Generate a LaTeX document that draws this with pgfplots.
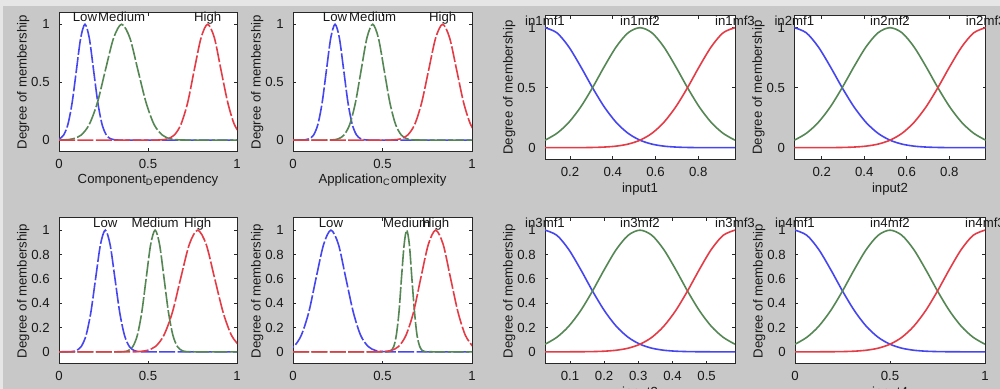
\documentclass[border=0pt]{standalone}
\usepackage{fontspec}
\setmainfont{Liberation Sans}
\usepackage{pgfplots}
\usepackage{pgfplotstable}
\pgfplotsset{compat=1.18}
\definecolor{bgc}{RGB}{200,200,200}
\definecolor{mfb}{RGB}{70,70,240}
\definecolor{mfg}{RGB}{85,135,85}
\definecolor{mfr}{RGB}{228,60,70}
\definecolor{axc}{RGB}{40,40,40}
\definecolor{txc}{RGB}{25,25,25}

% right-hand panels: x, blue (mf1), green (mf2), red (mf3)
\pgfplotstableread{
x b g r
0.083 1 0.0625 0
0.1386 0.9576 0.1197 0.0001
0.1941 0.8409 0.2102 0.0002
0.2497 0.6771 0.3385 0.0007
0.3053 0.5 0.5 0.002
0.3608 0.3385 0.6771 0.0053
0.4164 0.2102 0.8409 0.0131
0.4719 0.1197 0.9576 0.0299
0.5275 0.0625 1 0.0625
0.5831 0.0299 0.9576 0.1197
0.6386 0.0131 0.8409 0.2102
0.6942 0.0053 0.6771 0.3385
0.7498 0.002 0.5 0.5
0.8053 0.0007 0.3385 0.6771
0.8609 0.0002 0.2102 0.8409
0.9164 0.0001 0.1197 0.9576
0.972 0 0.0625 1
}\tinA
\pgfplotstableread{
x b g r
0.071 1 0.0625 0
0.1273 0.9576 0.1197 0.0001
0.1835 0.8409 0.2102 0.0002
0.2398 0.6771 0.3385 0.0007
0.296 0.5 0.5 0.002
0.3523 0.3385 0.6771 0.0053
0.4085 0.2102 0.8409 0.0131
0.4648 0.1197 0.9576 0.0299
0.521 0.0625 1 0.0625
0.5773 0.0299 0.9576 0.1197
0.6335 0.0131 0.8409 0.2102
0.6898 0.0053 0.6771 0.3385
0.746 0.002 0.5 0.5
0.8023 0.0007 0.3385 0.6771
0.8585 0.0002 0.2102 0.8409
0.9148 0.0001 0.1197 0.9576
0.971 0 0.0625 1
}\tinB
\pgfplotstableread{
x b g r
0.027 1 0.0625 0
0.0618 0.9576 0.1197 0.0001
0.0965 0.8409 0.2102 0.0002
0.1313 0.6771 0.3385 0.0007
0.166 0.5 0.5 0.002
0.2008 0.3385 0.6771 0.0053
0.2355 0.2102 0.8409 0.0131
0.2703 0.1197 0.9576 0.0299
0.305 0.0625 1 0.0625
0.3398 0.0299 0.9576 0.1197
0.3745 0.0131 0.8409 0.2102
0.4093 0.0053 0.6771 0.3385
0.444 0.002 0.5 0.5
0.4788 0.0007 0.3385 0.6771
0.5135 0.0002 0.2102 0.8409
0.5483 0.0001 0.1197 0.9576
0.583 0 0.0625 1
}\tinC
\pgfplotstableread{
x b g r
0 1 0.0625 0
0.0625 0.9576 0.1197 0.0001
0.125 0.8409 0.2102 0.0002
0.1875 0.6771 0.3385 0.0007
0.25 0.5 0.5 0.002
0.3125 0.3385 0.6771 0.0053
0.375 0.2102 0.8409 0.0131
0.4375 0.1197 0.9576 0.0299
0.5 0.0625 1 0.0625
0.5625 0.0299 0.9576 0.1197
0.625 0.0131 0.8409 0.2102
0.6875 0.0053 0.6771 0.3385
0.75 0.002 0.5 0.5
0.8125 0.0007 0.3385 0.6771
0.875 0.0002 0.2102 0.8409
0.9375 0.0001 0.1197 0.9576
1 0 0.0625 1
}\tinD

\newcommand{\fs}{\fontsize{6.6}{8}\selectfont}
\tikzset{lbl/.style={anchor=base, yshift=1.2pt, inner sep=0pt, text=txc, font=\fs}}
\pgfplotsset{
  mf/.style={
    scale only axis, anchor=south west,
    axis background/.style={fill=white},
    axis line style={draw=axc, line width=0.5pt},
    tick align=inside, tick pos=both, major tick length=1.6pt,
    every tick/.style={draw=axc, line width=0.45pt},
    ymin=-0.1, ymax=1.1,
    clip mode=individual,
    font=\fs,
    ticklabel style={font=\fs, text=txc},
    /pgf/number format/assume math mode=true,
    xticklabel style={anchor=base, inner sep=0pt, yshift=-8.4pt},
    yticklabel style={anchor=east, inner sep=0pt, xshift=-4.5pt},
    xlabel style={at={(axis description cs:0.5,0)}, anchor=base, inner sep=0pt, text=txc},
    ylabel={Degree of membership},
    ylabel style={anchor=base, inner sep=0pt, text=txc},
    every axis plot/.append style={line width=0.8pt, smooth},
  },
  leftdash/.style={every axis plot/.append style={dash pattern=on 8pt off 1.2pt}},
}

\begin{document}
\begin{tikzpicture}
\useasboundingbox (0,0) rectangle (500pt,194.5pt);
\clip (0,0) rectangle (500pt,194.5pt);
\fill[bgc] (0,0) rectangle (500pt,194.5pt);
\fill[white!55!bgc] (0,191.5pt) rectangle (500pt,194.5pt);
\fill[white!55!bgc] (0,0) rectangle (1.5pt,194.5pt);

% ---------- Panel 1 ----------
\begin{axis}[mf, leftdash, at={(29.5pt,118.65pt)}, width=89pt, height=69.5pt,
  xmin=0, xmax=1, xtick={0,0.5,1}, ytick={0,0.5,1},
  xlabel={Component\textsubscript{D}ependency}, xlabel style={yshift=-15.8pt},
  ylabel style={at={(axis description cs:-0.182,0.5)}}]
\addplot[mfb] coordinates {(-0.022,0.0022) (0.002,0.0111) (0.026,0.0439) (0.050,0.1353) (0.074,0.3247) (0.098,0.6065) (0.122,0.8825) (0.146,1) (0.170,0.8825) (0.194,0.6065) (0.218,0.3247) (0.242,0.1353) (0.266,0.0439) (0.290,0.0111) (0.314,0.0022) (0.40,0) (1,0)};
\addplot[mfg] coordinates {(0,0) (0.034,0.0022) (0.079,0.0111) (0.125,0.0439) (0.170,0.1353) (0.216,0.3247) (0.261,0.6065) (0.307,0.8825) (0.352,1) (0.398,0.8825) (0.443,0.6065) (0.489,0.3247) (0.534,0.1353) (0.580,0.0439) (0.625,0.0111) (0.671,0.0022) (0.75,0) (1,0)};
\addplot[mfr] coordinates {(0,0) (0.50,0) (0.573,0.0022) (0.610,0.0111) (0.648,0.0439) (0.685,0.1353) (0.723,0.3247) (0.760,0.6065) (0.798,0.8825) (0.835,1) (0.873,0.8825) (0.910,0.6065) (0.948,0.3247) (0.985,0.1353) (1.023,0.0439)};
\node[lbl] at (axis cs:0.146,1) {Low};
\node[lbl] at (axis cs:0.352,1) {Medium};
\node[lbl] at (axis cs:0.835,1) {High};
\end{axis}

% ---------- Panel 2 ----------
\begin{axis}[mf, leftdash, at={(146.5pt,118.65pt)}, width=89.5pt, height=69.5pt,
  xmin=0, xmax=1, xtick={0,0.5,1}, ytick={0,0.5,1},
  xlabel={Application\textsubscript{C}omplexity}, xlabel style={yshift=-15.8pt},
  ylabel style={at={(axis description cs:-0.181,0.5)}}]
\addplot[mfb] coordinates {(0,0) (0.067,0.0022) (0.091,0.0111) (0.115,0.0439) (0.139,0.1353) (0.163,0.3247) (0.187,0.6065) (0.211,0.8825) (0.235,1) (0.259,0.8825) (0.283,0.6065) (0.307,0.3247) (0.331,0.1353) (0.355,0.0439) (0.379,0.0111) (0.403,0.0022) (0.48,0) (1,0)};
\addplot[mfg] coordinates {(0,0) (0.15,0) (0.221,0.0022) (0.253,0.0111) (0.285,0.0439) (0.317,0.1353) (0.349,0.3247) (0.381,0.6065) (0.413,0.8825) (0.445,1) (0.477,0.8825) (0.509,0.6065) (0.541,0.3247) (0.573,0.1353) (0.605,0.0439) (0.637,0.0111) (0.669,0.0022) (0.75,0) (1,0)};
\addplot[mfr] coordinates {(0,0) (0.50,0) (0.563,0.0022) (0.602,0.0111) (0.641,0.0439) (0.680,0.1353) (0.719,0.3247) (0.758,0.6065) (0.797,0.8825) (0.836,1) (0.875,0.8825) (0.914,0.6065) (0.953,0.3247) (0.992,0.1353) (1.031,0.0439)};
\node[lbl] at (axis cs:0.235,1) {Low};
\node[lbl] at (axis cs:0.445,1) {Medium};
\node[lbl] at (axis cs:0.836,1) {High};
\end{axis}

% ---------- Panel 3 ----------
\begin{axis}[mf, at={(272.5pt,114.65pt)}, width=95pt, height=72pt,
  xmin=0.083, xmax=0.972, xtick={0.2,0.4,0.6,0.8}, ytick={0,0.5,1},
  xlabel={input1}, xlabel style={yshift=-16.3pt},
  ylabel style={at={(axis description cs:-0.170,0.5)}}]
\addplot[mfb] table[x=x,y=b] {\tinA};
\addplot[mfg] table[x=x,y=g] {\tinA};
\addplot[mfr] table[x=x,y=r] {\tinA};
\node[lbl] at (axis cs:0.083,1) {in1mf1};
\node[lbl] at (axis cs:0.5275,1) {in1mf2};
\node[lbl] at (axis cs:0.972,1) {in1mf3};
\end{axis}

% ---------- Panel 4 ----------
\begin{axis}[mf, at={(397.15pt,114.65pt)}, width=95.7pt, height=72pt,
  xmin=0.071, xmax=0.971, xtick={0.2,0.4,0.6,0.8}, ytick={0,0.5,1},
  xlabel={input2}, xlabel style={yshift=-16.3pt},
  ylabel style={at={(axis description cs:-0.169,0.5)}}]
\addplot[mfb] table[x=x,y=b] {\tinB};
\addplot[mfg] table[x=x,y=g] {\tinB};
\addplot[mfr] table[x=x,y=r] {\tinB};
\node[lbl] at (axis cs:0.071,1) {in2mf1};
\node[lbl] at (axis cs:0.521,1) {in2mf2};
\node[lbl] at (axis cs:0.971,1) {in2mf3};
\end{axis}

% ---------- Panel 5 ----------
\begin{axis}[mf, leftdash, at={(29.5pt,12.5pt)}, width=89pt, height=73pt,
  xmin=0, xmax=1, xtick={0,0.5,1}, ytick={0,0.2,0.4,0.6,0.8,1},
  ylabel style={at={(axis description cs:-0.182,0.5)}}]
\addplot[mfb] coordinates {(0,0) (0.071,0.0022) (0.098,0.0111) (0.125,0.0439) (0.152,0.1353) (0.179,0.3247) (0.206,0.6065) (0.233,0.8825) (0.260,1) (0.287,0.8825) (0.314,0.6065) (0.341,0.3247) (0.368,0.1353) (0.395,0.0439) (0.422,0.0111) (0.449,0.0022) (0.52,0) (1,0)};
\addplot[mfg] coordinates {(0,0) (0.30,0) (0.365,0.0022) (0.390,0.0111) (0.415,0.0439) (0.440,0.1353) (0.465,0.3247) (0.490,0.6065) (0.515,0.8825) (0.540,1) (0.565,0.8825) (0.590,0.6065) (0.615,0.3247) (0.640,0.1353) (0.665,0.0439) (0.690,0.0111) (0.715,0.0022) (0.78,0) (1,0)};
\addplot[mfr] coordinates {(0,0) (0.38,0) (0.447,0.0022) (0.494,0.0111) (0.542,0.0439) (0.589,0.1353) (0.637,0.3247) (0.684,0.6065) (0.732,0.8825) (0.779,1) (0.827,0.8825) (0.874,0.6065) (0.922,0.3247) (0.969,0.1353) (1.017,0.0439)};
\node[lbl] at (axis cs:0.260,1) {Low};
\node[lbl] at (axis cs:0.540,1) {Medium};
\node[lbl] at (axis cs:0.779,1) {High};
\end{axis}

% ---------- Panel 6 ----------
\begin{axis}[mf, leftdash, at={(146.5pt,12.5pt)}, width=89.5pt, height=73pt,
  xmin=0, xmax=1, xtick={0,0.5,1}, ytick={0,0.2,0.4,0.6,0.8,1},
  ylabel style={at={(axis description cs:-0.181,0.5)}}]
\addplot[mfb] coordinates {(-0.079,0.0022) (-0.037,0.0111) (0.005,0.0439) (0.046,0.1353) (0.088,0.3247) (0.129,0.6065) (0.171,0.8825) (0.212,1) (0.254,0.8825) (0.295,0.6065) (0.337,0.3247) (0.378,0.1353) (0.420,0.0439) (0.461,0.0111) (0.503,0.0022) (0.58,0) (1,0)};
\addplot[mfg] coordinates {(0,0) (0.46,0) (0.534,0.0022) (0.548,0.0111) (0.563,0.0439) (0.577,0.1353) (0.592,0.3247) (0.606,0.6065) (0.621,0.8825) (0.635,1) (0.650,0.8825) (0.664,0.6065) (0.679,0.3247) (0.693,0.1353) (0.708,0.0439) (0.722,0.0111) (0.737,0.0022) (0.80,0) (1,0)};
\addplot[mfr] coordinates {(0,0) (0.44,0) (0.507,0.0022) (0.548,0.0111) (0.590,0.0439) (0.631,0.1353) (0.673,0.3247) (0.714,0.6065) (0.756,0.8825) (0.797,1) (0.839,0.8825) (0.880,0.6065) (0.922,0.3247) (0.963,0.1353) (1.005,0.0439)};
\node[lbl] at (axis cs:0.212,1) {Low};
\node[lbl] at (axis cs:0.635,1) {Medium};
\node[lbl] at (axis cs:0.797,1) {High};
\end{axis}

% ---------- Panel 7 ----------
\begin{axis}[mf, at={(272.5pt,12.5pt)}, width=95pt, height=73pt,
  xmin=0.027, xmax=0.583, xtick={0.1,0.2,0.3,0.4,0.5}, ytick={0,0.2,0.4,0.6,0.8,1},
  xlabel={input3}, xlabel style={yshift=-16.3pt},
  ylabel style={at={(axis description cs:-0.170,0.5)}}]
\addplot[mfb] table[x=x,y=b] {\tinC};
\addplot[mfg] table[x=x,y=g] {\tinC};
\addplot[mfr] table[x=x,y=r] {\tinC};
\node[lbl] at (axis cs:0.027,1) {in3mf1};
\node[lbl] at (axis cs:0.305,1) {in3mf2};
\node[lbl] at (axis cs:0.583,1) {in3mf3};
\end{axis}

% ---------- Panel 8 ----------
\begin{axis}[mf, at={(397.5pt,12.5pt)}, width=95pt, height=73pt,
  xmin=0, xmax=1, xtick={0,0.5,1}, ytick={0,0.2,0.4,0.6,0.8,1},
  xlabel={input4}, xlabel style={yshift=-16.3pt},
  ylabel style={at={(axis description cs:-0.170,0.5)}}]
\addplot[mfb] table[x=x,y=b] {\tinD};
\addplot[mfg] table[x=x,y=g] {\tinD};
\addplot[mfr] table[x=x,y=r] {\tinD};
\node[lbl] at (axis cs:0,1) {in4mf1};
\node[lbl] at (axis cs:0.5,1) {in4mf2};
\node[lbl] at (axis cs:1,1) {in4mf3};
\end{axis}
\end{tikzpicture}
\end{document}
